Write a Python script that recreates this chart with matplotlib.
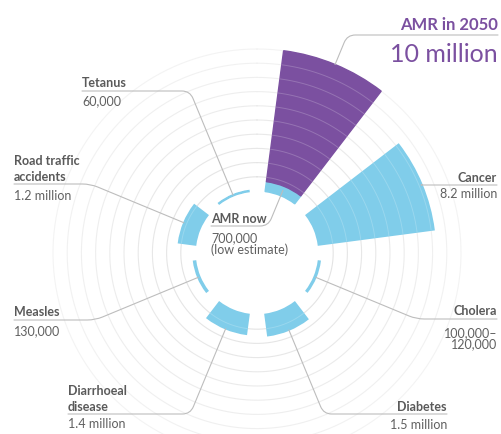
import numpy as np
import matplotlib.pyplot as plt

# deaths per year (millions), clockwise from the top
categories = ['AMR in 2050', 'Cancer', 'Cholera', 'Diabetes',
              'Diarrhoeal\ndisease', 'Measles', 'Road traffic\naccidents', 'Tetanus']
deaths = [10.0, 8.2, 0.11, 1.5, 1.4, 0.13, 1.2, 0.06]
value_text = ['10 million', '8.2 million', '100,000–\n120,000', '1.5 million',
              '1.4 million', '130,000', '1.2 million', '60,000']
amr_now = 0.7
amr_now_text = '700,000\n(low estimate)'

purple = '#7b50a0'
blue = '#80cdea'
title_col = '#5a5a5a'
value_col = '#606060'
line_col = '#bdbdbd'

W, H = 501, 434
fig = plt.figure(figsize=(W / 100, H / 100), dpi=100)

px = 14.2          # pixels per million
r0 = 62 / px       # white hole in the middle
cx, cy = 257, 253  # centre (image pixels)
rmax = 15
half = rmax * px
ax = fig.add_axes([(cx - half) / W, (H - cy - half) / H, 2 * half / W, 2 * half / H],
                  projection='polar')
ax.set_theta_zero_location('N')
ax.set_theta_direction(-1)
ax.set_ylim(0, rmax)
ax.set_axis_off()

n = len(categories)
ang = 22.5 + 45 * np.arange(n)
theta = np.deg2rad(ang)
width = np.deg2rad(30)

# background rings, one per million, fading outwards
t = np.linspace(0, 2 * np.pi, 500)
for k in range(1, 11):
    ax.plot(t, np.full_like(t, r0 + k), color='#e2e2e2', lw=0.8,
            alpha=1 - 0.06 * k, zorder=1)

# bars
ax.bar(theta[1:], deaths[1:], width=width, bottom=r0, color=blue,
       edgecolor=blue, lw=1.2, zorder=2)
ax.bar(theta[0], amr_now, width=width, bottom=r0, color=blue,
       edgecolor=blue, lw=1, zorder=2)
ax.bar(theta[0], deaths[0] - amr_now, width=width, bottom=r0 + amr_now,
       color=purple, edgecolor=purple, lw=1, zorder=2)

# faint rings showing through the bars
for i in range(n):
    ts = np.linspace(theta[i] - width / 2, theta[i] + width / 2, 40)
    for k in range(1, 11):
        if k < deaths[i] - 0.1:
            ax.plot(ts, np.full_like(ts, r0 + k), color='white', lw=0.7,
                    alpha=0.2, zorder=3)


def fy(y):
    return 1 - y / H


# label layout: x, ha, title baseline, line y, value baseline, where the line hits
layout = [
    (498, 'right', 30, 35, 62, r0 + 10.0),
    (497, 'right', 182, 185, 198, r0 + 8.2),
    (497, 'right', 315, 319, 337, r0 + 0.1),
    (447, 'right', 411, 414, 429, r0 + 1.5),
    (68, 'left', 395, 414, 428, r0 + 1.4),
    (14, 'left', 316, 320, 335, r0 + 0.1),
    (14, 'left', 165, 184, 200, r0 + 1.2),
    (82, 'left', 87, 91, 105, r0 + 0.05),
]

for i, (x, ha, yt, yl, yv, rhit) in enumerate(layout):
    if i == 0:
        fig.text(x / W, fy(yt), categories[i], ha=ha, va='baseline', fontsize=12,
                 fontweight='bold', color=purple, family='Lato')
        fig.text(x / W, fy(yv), value_text[i], ha=ha, va='baseline', fontsize=18,
                 color=purple, family='Lato')
    else:
        for j, s in enumerate(categories[i].split('\n')):
            fig.text(x / W, fy(yt + 16 * j), s, ha=ha, va='baseline', fontsize=9,
                     fontweight='bold', color=title_col, family='Lato')
        for j, s in enumerate(value_text[i].split('\n')):
            fig.text(x / W, fy(yv + 11.5 * j), s, ha=ha, va='baseline', fontsize=9,
                     color=value_col, family='Lato')
    rad = 0 if i == 1 else 8
    ax.annotate('', xy=(theta[i], rhit), xycoords='data',
                xytext=(x, H - yl), textcoords='figure pixels',
                arrowprops=dict(arrowstyle='-', color=line_col, lw=0.8,
                                shrinkA=0, shrinkB=0,
                                connectionstyle=f'angle,angleA=0,angleB={90 - ang[i]},rad={rad}'),
                annotation_clip=False)

# AMR now, inside the hole
fig.text(211 / W, fy(223), 'AMR now', ha='left', va='baseline', fontsize=9,
         fontweight='bold', color=title_col, family='Lato')
for j, s in enumerate(amr_now_text.split('\n')):
    fig.text(211 / W, fy(242 + 11.5 * j), s, ha='left', va='baseline', fontsize=9,
             color=value_col, family='Lato')
ax.annotate('', xy=(theta[0], r0 + 0.4), xycoords='data',
            xytext=(211, H - 226), textcoords='figure pixels',
            arrowprops=dict(arrowstyle='-', color=line_col, lw=0.8,
                            shrinkA=0, shrinkB=0,
                            connectionstyle=f'angle,angleA=0,angleB={90 - ang[0]},rad=8'),
            annotation_clip=False)

fig.savefig('out.png', dpi=100)
